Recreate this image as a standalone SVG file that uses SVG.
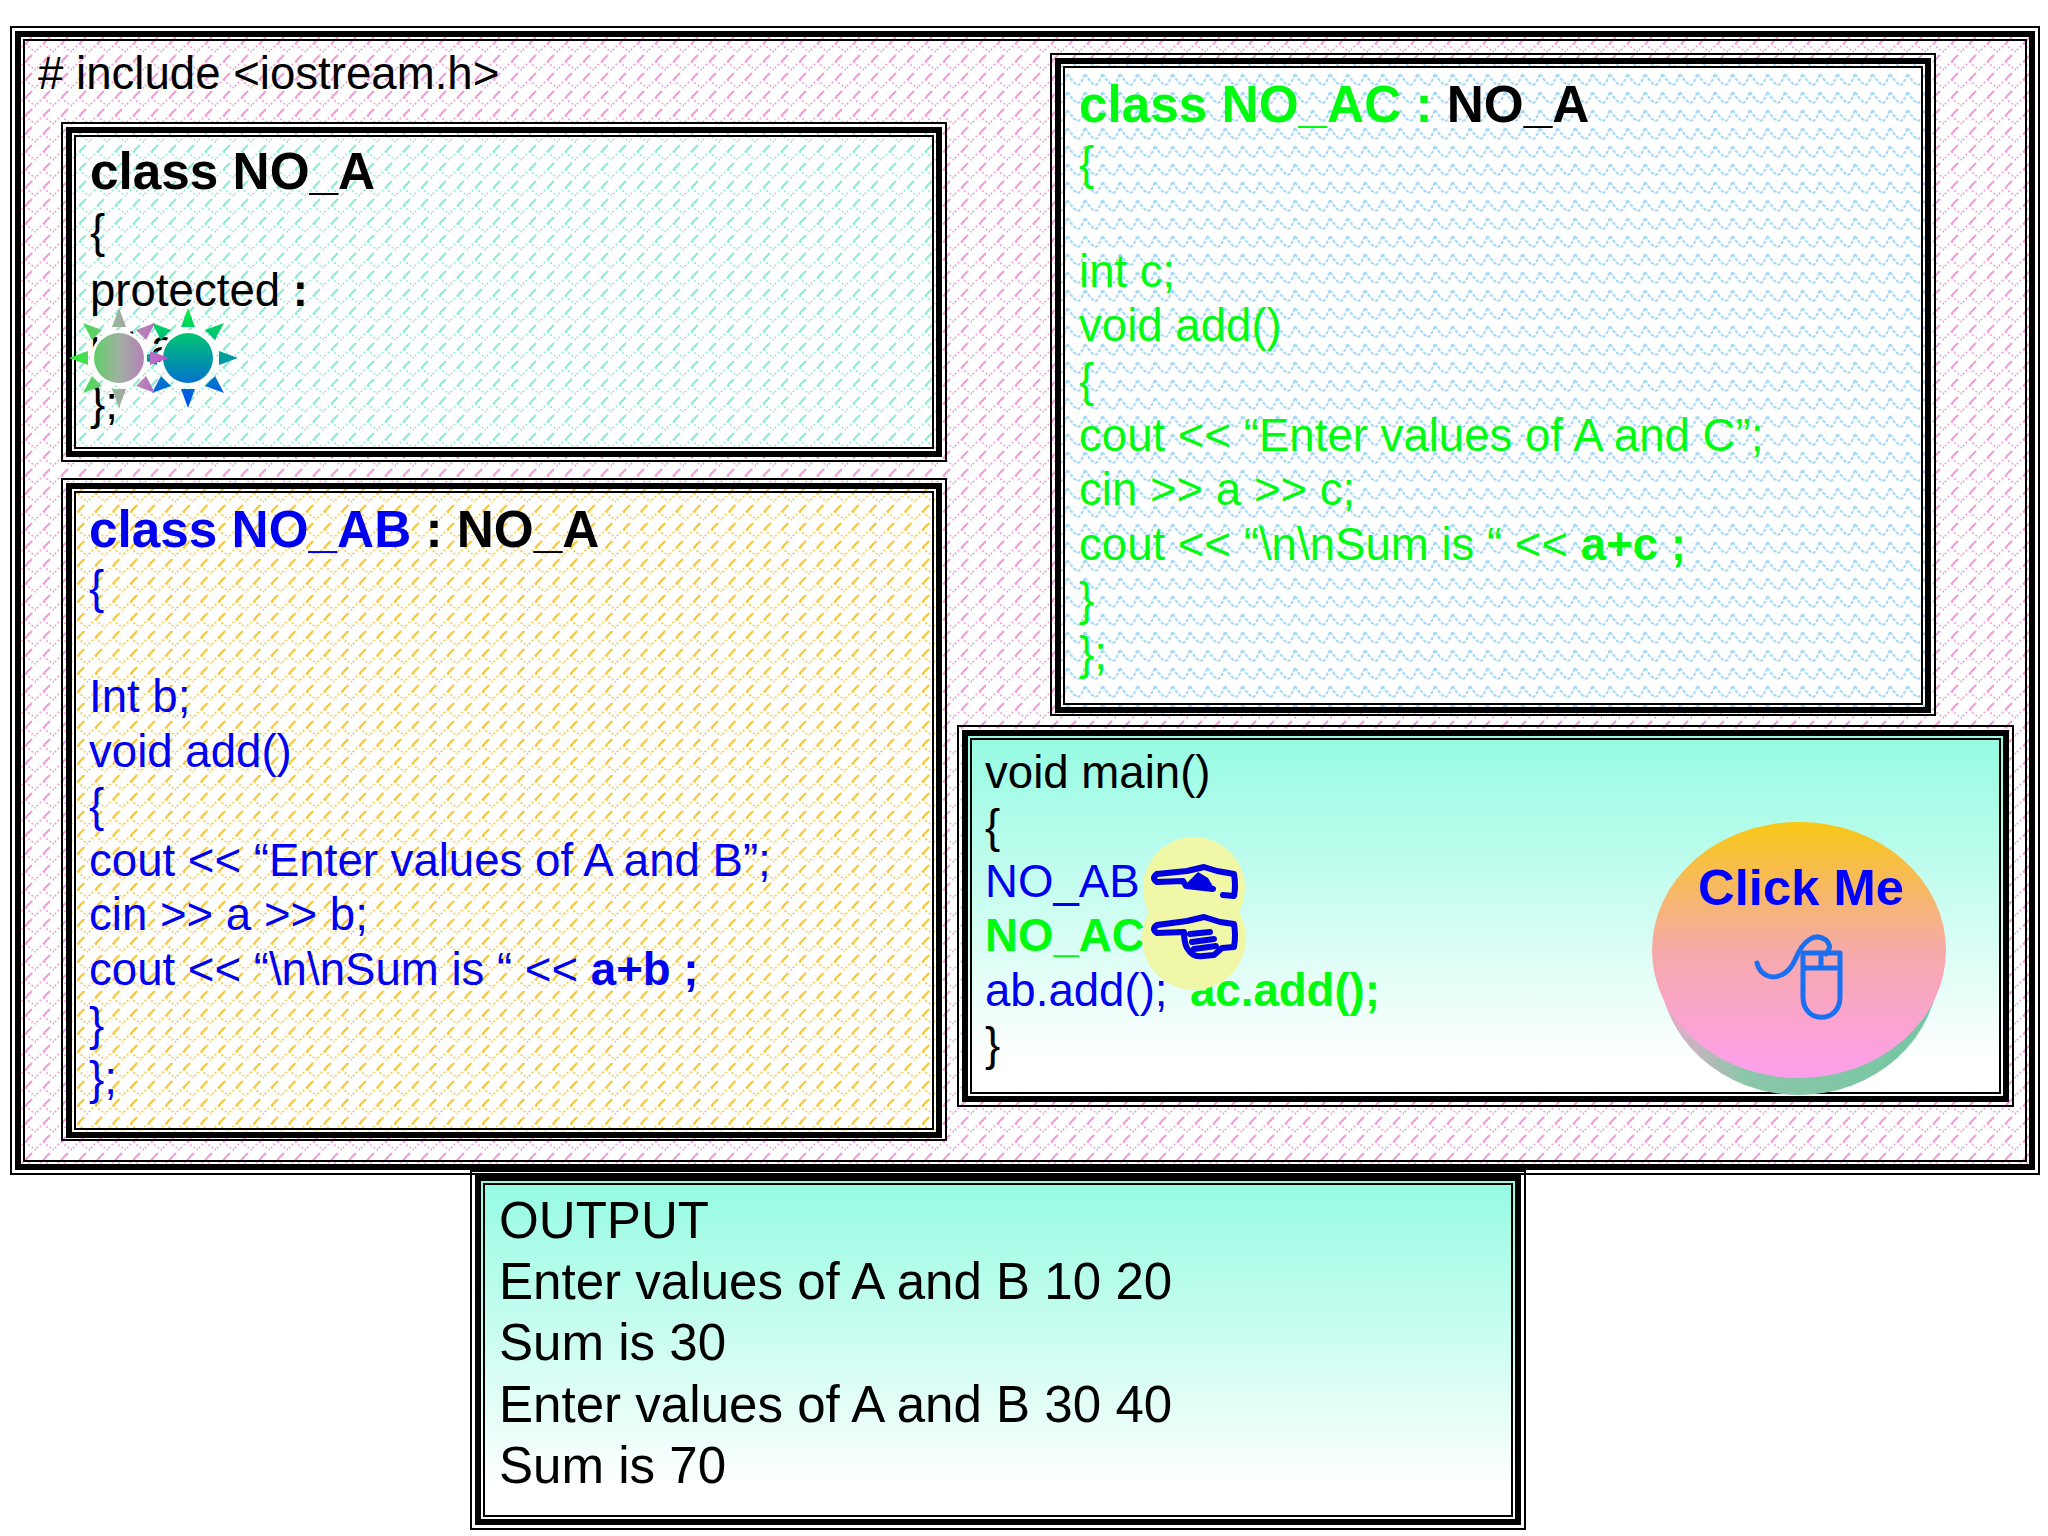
<svg xmlns="http://www.w3.org/2000/svg" width="2048" height="1536" viewBox="0 0 2048 1536">
<style>
text{font-family:"Liberation Sans",Arial,sans-serif;font-size:45.6px;white-space:pre}
.b{font-weight:bold;font-size:51.3px}
.o{font-size:51.1px}
.k{fill:#000}.u{fill:#0000f0}.g{fill:#00fa10}
.t1{fill:none;stroke:#000;stroke-width:2}
.t2{fill:none;stroke:#000;stroke-width:6}
.hand{fill:none;stroke:#0000e0;stroke-width:6;stroke-linejoin:round;stroke-linecap:round}
.d{fill:none;stroke-width:1.7;stroke-dasharray:1.8 2.4}
.s{fill:none;stroke-width:2.2}
</style>
<defs>
<pattern id="pPink" width="18" height="18" patternUnits="userSpaceOnUse"><rect width="18" height="18" fill="#fff"/><g stroke="#f59ada"><path class="s" d="M14 1L8 7"/><path class="d" d="M8 7L0 15M8 7Q11 13 18 15M18 15L15 18"/></g></pattern>
<pattern id="pAqua" width="18" height="18" patternUnits="userSpaceOnUse"><rect width="18" height="18" fill="#fff"/><g stroke="#86eed2"><path class="s" d="M14 1L8 7"/><path class="d" d="M8 7L0 15M8 7Q11 13 18 15M18 15L15 18"/></g></pattern>
<pattern id="pGold" width="17.6" height="18" patternUnits="userSpaceOnUse"><rect width="18" height="18" fill="#fff"/><g stroke="#f5c530"><path class="s" d="M14 1L8 7"/><path class="d" d="M8 7L0 15M8 7Q11 13 18 15M18 15L15 18"/></g></pattern>
<pattern id="pBlue" width="17.5" height="18" patternUnits="userSpaceOnUse"><rect width="18" height="18" fill="#fff"/><path d="M0 2C3 6 6 11 10 13C13 13 15 8 17.5 2" fill="none" stroke="#9ed6f6" stroke-width="2" stroke-dasharray="3.5 1.5"/></pattern>
<linearGradient id="gMain" x1="0" y1="0" x2="0" y2="1"><stop offset="0" stop-color="#94fbe2"/><stop offset=".9" stop-color="#fff"/></linearGradient>
<linearGradient id="gBtn" x1="0" y1="0" x2="0" y2="1"><stop offset="0" stop-color="#f8c816"/><stop offset=".5" stop-color="#f6aaa8"/><stop offset="1" stop-color="#fd9fee"/></linearGradient>
<linearGradient id="gSide" x1="0" y1="0" x2="1" y2="0"><stop offset="0" stop-color="#f0a8d0"/><stop offset=".3" stop-color="#8cc6a8"/><stop offset="1" stop-color="#74c6a2"/></linearGradient>
<linearGradient id="gSun1" x1="0" y1="0" x2="1" y2="0"><stop offset="0" stop-color="#20f030"/><stop offset=".5" stop-color="#a0b0a0"/><stop offset="1" stop-color="#c850d0"/></linearGradient>
<linearGradient id="gSun2" x1="0" y1="0" x2="0" y2="1"><stop offset="0" stop-color="#00f040"/><stop offset="1" stop-color="#0048ff"/></linearGradient>
<path id="sun" d="M-25 0A25 25 0 1 0 25 0A25 25 0 1 0-25 0ZM0-50L7-31H-7ZM0 50L7 31H-7ZM-50 0L-31-7V7ZM50 0L31-7V7ZM-36-35L-17-28L-27-18ZM36-35L17-28L27-18ZM-36 35L-17 28L-27 18ZM36 35L17 28L27 18Z"/>
</defs>
<rect width="2048" height="1536" fill="#fff"/>

<g id="outer">
<rect x="18" y="34" width="2014" height="1133" fill="url(#pPink)"/>
<rect x="11" y="27" width="2028" height="1147" class="t1"/>
<rect x="18" y="34" width="2014" height="1133" class="t2"/>
<rect x="24" y="40" width="2002" height="1121" class="t1"/>
<text x="38" y="89">&#35; include &lt;iostream.h&gt;</text>
</g>

<g id="class-no-a">
<rect x="69" y="130" width="870" height="324" fill="url(#pAqua)"/>
<rect x="62" y="123" width="884" height="338" class="t1"/>
<rect x="69" y="130" width="870" height="324" class="t2"/>
<rect x="75" y="136" width="858" height="312" class="t1"/>
<text x="90" y="189" class="b k">class NO_A</text>
<text x="90" y="247" class="k">{</text>
<text x="90" y="306" class="k">protected <tspan font-weight="bold">:</tspan></text>
<text x="90" y="362" class="k">int a;</text>
<text x="90" y="419" class="k">};</text>
<g transform="translate(188 358)"><circle r="28" fill="#fff"/><use href="#sun" fill="url(#gSun2)"/></g>
<g transform="translate(119 358)"><circle r="28" fill="#fff"/><use href="#sun" fill="url(#gSun1)"/></g>
</g>

<g id="class-no-ab">
<rect x="69" y="486" width="870" height="649" fill="url(#pGold)"/>
<rect x="62" y="479" width="884" height="661" class="t1"/>
<rect x="69" y="486" width="870" height="649" class="t2"/>
<rect x="75" y="492" width="858" height="637" class="t1"/>
<text x="89" y="547" class="b u">class NO_AB <tspan class="k">: NO_A</tspan></text>
<text x="89" y="603" class="u">{</text>
<text x="89" y="712" class="u">Int b;</text>
<text x="89" y="767" class="u">void add()</text>
<text x="89" y="821" class="u">{</text>
<text x="89" y="876" class="u">cout &lt;&lt; “Enter values of A and B”;</text>
<text x="89" y="930" class="u">cin &gt;&gt; a &gt;&gt; b;</text>
<text x="89" y="985" class="u">cout &lt;&lt; “\n\nSum is “ &lt;&lt; <tspan font-weight="bold">a+b ;</tspan></text>
<text x="89" y="1040" class="u">}</text>
<text x="89" y="1094" class="u">};</text>
</g>

<g id="class-no-ac">
<rect x="1058" y="61" width="870" height="649" fill="url(#pBlue)"/>
<rect x="1051" y="54" width="884" height="661" class="t1"/>
<rect x="1058" y="61" width="870" height="649" class="t2"/>
<rect x="1064" y="67" width="858" height="637" class="t1"/>
<text x="1079" y="122" class="b g">class NO_AC : <tspan class="k">NO_A</tspan></text>
<text x="1079" y="179" class="g">{</text>
<text x="1079" y="287" class="g">int c;</text>
<text x="1079" y="341" class="g">void add()</text>
<text x="1079" y="396" class="g">{</text>
<text x="1079" y="451" class="g">cout &lt;&lt; “Enter values of A and C”;</text>
<text x="1079" y="505" class="g">cin &gt;&gt; a &gt;&gt; c;</text>
<text x="1079" y="560" class="g">cout &lt;&lt; “\n\nSum is “ &lt;&lt; <tspan font-weight="bold">a+c ;</tspan></text>
<text x="1079" y="615" class="g">}</text>
<text x="1079" y="669" class="g">};</text>
</g>

<g id="main">
<rect x="965" y="733" width="1041" height="366" fill="url(#gMain)"/>
<rect x="958" y="726" width="1055" height="380" class="t1"/>
<rect x="965" y="733" width="1041" height="366" class="t2"/>
<rect x="971" y="739" width="1029" height="354" class="t1"/>
<text x="985" y="788" class="k">void main()</text>
<text x="985" y="842" class="k">{</text>
<text x="985" y="897" class="u">NO_AB</text>
<text x="985" y="951" class="g" font-weight="bold">NO_AC</text>
<text x="985" y="1006" class="u">ab.add();</text>
<text x="1190" y="1006" class="g" font-weight="bold">ac.add();</text>
<text x="985" y="1060" class="k">}</text>
<g id="hand-ab">
<circle cx="1194" cy="888" r="51" fill="#f0f8a8"/>
<circle cx="1194" cy="938" r="52" fill="#f0f8a8"/>
<path class="hand" d="M1157 874Q1151 878 1157 882L1183 881L1186 886L1213 889M1157 874L1187 871L1204 867L1217 871L1234 874Q1236 886 1234 896L1223 895"/>
<path d="M1186 884L1198 872L1208 878L1214 888Z" fill="#0000e0"/>
</g>
<g id="hand-ac">
<path class="hand" d="M1157 925Q1151 929 1157 933L1184 932Q1184 942 1187 948Q1193 958 1203 956L1214 955L1222 948L1234 947Q1236 935 1234 924L1220 922L1204 917L1187 921Z"/>
<path class="hand" d="M1190 934L1210 932M1192 942L1214 939M1194 949L1216 946" stroke-width="4"/>
</g>
</g>

<g id="click-me">
<ellipse cx="1799" cy="966" rx="140" ry="129" fill="url(#gSide)"/>
<ellipse cx="1799" cy="950" rx="147" ry="128" fill="url(#gBtn)"/>
<text x="1698" y="905" class="b" fill="#0000ff" style="font-size:50.8px">Click Me</text>
<g fill="none" stroke="#1a70f0" stroke-width="5" stroke-linecap="round" stroke-linejoin="round">
<path d="M1757 963C1762 982 1785 982 1795 960C1803 940 1815 932 1826 940C1832 946 1829 950 1826 954"/>
<path d="M1803 953H1840V997C1840 1024 1803 1024 1803 997ZM1803 968H1840M1821 953V968"/>
</g>
</g>

<g id="output">
<rect x="478" y="1178" width="1040" height="344" fill="url(#gMain)"/>
<rect x="471" y="1171" width="1054" height="358" class="t1"/>
<rect x="478" y="1178" width="1040" height="344" class="t2"/>
<rect x="484" y="1184" width="1028" height="332" class="t1"/>
<text x="499" y="1238" class="o k">OUTPUT</text>
<text x="499" y="1299" class="o k">Enter values of A and B 10 20</text>
<text x="499" y="1360" class="o k">Sum is 30</text>
<text x="499" y="1422" class="o k">Enter values of A and B 30 40</text>
<text x="499" y="1483" class="o k">Sum is 70</text>
</g>
<g id="connectors"/>
</svg>
